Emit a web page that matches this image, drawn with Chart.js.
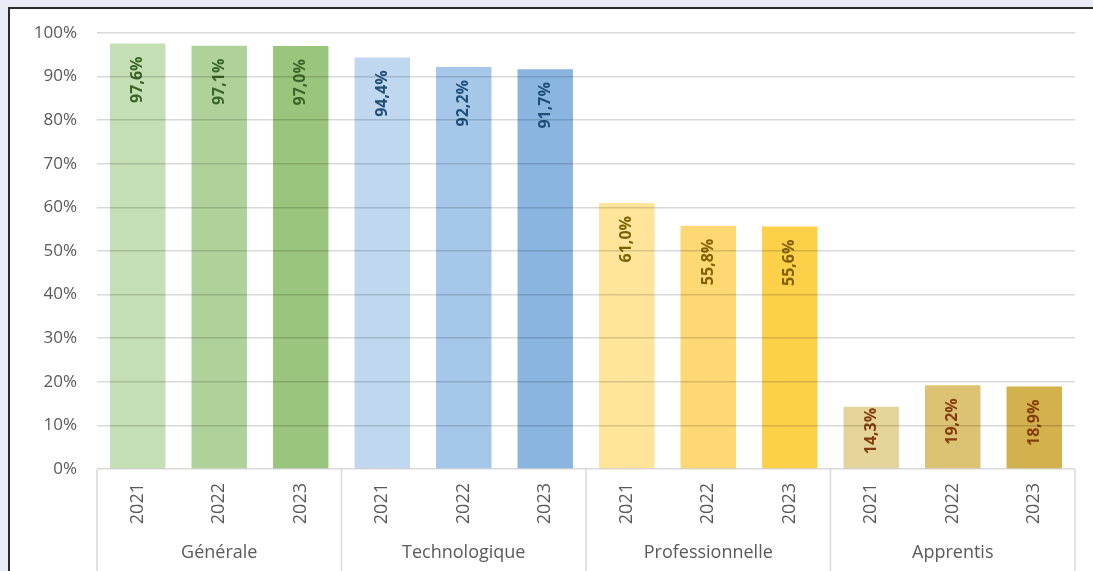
<!DOCTYPE html>
<html>
<head>
<meta charset="utf-8">
<script src="https://cdn.jsdelivr.net/npm/chart.js@4/dist/chart.umd.min.js"></script>
<style>
  html, body { margin: 0; padding: 0; background: #e9ecf5; overflow: hidden; }
  #card { position: absolute; left: 8px; top: 7px; width: 1200px; height: 700px; background: #fff;
          border-left: 2px solid #2b2b2b; border-top: 2px solid #2b2b2b; }
  #wrap { position: absolute; left: 0; top: 0; width: 1093px; height: 571px; }
</style>
</head>
<body>
<div id="card"></div>
<div id="wrap"><canvas id="chart1"></canvas></div>
<script>
const groups = ['Générale', 'Technologique', 'Professionnelle', 'Apprentis'];
const years = ['2021', '2022', '2023'];
const values = [0.976, 0.971, 0.970, 0.944, 0.922, 0.917, 0.610, 0.558, 0.556, 0.143, 0.192, 0.189];
const barColors = [
  '#c5dfb4', '#aed29a', '#9ac57c',
  '#bfd7ef', '#a5c7e9', '#8ab5e0',
  '#fee59a', '#fdd873', '#fdd04a',
  '#e5d49a', '#dcc373', '#d3b14d'
];
const labelColors = ['#3b6428', '#1f4e79', '#7f6000', '#843c0c'];

const labels = [];
groups.forEach(() => years.forEach(y => labels.push(y)));

const fontFamily = "'Open Sans', sans-serif";

const barLabels = {
  id: 'barLabels',
  afterDatasetsDraw(chart) {
    const ctx = chart.ctx;
    const meta = chart.getDatasetMeta(0);
    ctx.save();
    ctx.font = "bold 16px " + fontFamily;
    meta.data.forEach((bar, i) => {
      const txt = (values[i] * 100).toFixed(1).replace('.', ',') + '%';
      const w = ctx.measureText(txt).width;
      const h = bar.base - bar.y;
      // inside end, pushed up when the bar is short
      const off = Math.max(1, Math.min(13, h - w - 14));
      ctx.save();
      ctx.translate(bar.x, bar.y + off);
      ctx.rotate(-Math.PI / 2);
      ctx.textAlign = 'right';
      ctx.textBaseline = 'middle';
      ctx.fillStyle = labelColors[Math.floor(i / 3)];
      ctx.fillText(txt, 0, 0);
      ctx.restore();
    });
    ctx.restore();
  }
};

const groupAxis = {
  id: 'groupAxis',
  afterDraw(chart) {
    const ctx = chart.ctx;
    const x = chart.scales.x;
    const top = chart.chartArea.bottom;
    const bottom = chart.height;
    ctx.save();
    ctx.strokeStyle = '#d9d9d9';
    ctx.lineWidth = 1.5;
    for (let g = 0; g <= groups.length; g++) {
      let px;
      if (g === 0) px = x.left;
      else if (g === groups.length) px = x.right;
      else px = (x.getPixelForValue(g * 3 - 1) + x.getPixelForValue(g * 3)) / 2;
      ctx.beginPath();
      ctx.moveTo(px, top);
      ctx.lineTo(px, bottom);
      ctx.stroke();
    }
    ctx.font = "18px " + fontFamily;
    ctx.fillStyle = '#595959';
    ctx.textAlign = 'center';
    ctx.textBaseline = 'middle';
    groups.forEach((name, g) => {
      ctx.fillText(name, x.getPixelForValue(g * 3 + 1), top + 84);
    });
    ctx.restore();
  }
};

new Chart(document.getElementById('chart1'), {
  type: 'bar',
  data: {
    labels: labels,
    datasets: [{
      data: values,
      backgroundColor: barColors,
      borderWidth: 0,
      barPercentage: 0.68,
      categoryPercentage: 1
    }]
  },
  options: {
    responsive: true,
    maintainAspectRatio: false,
    animation: false,
    layout: { padding: { top: 33, right: 18, left: 0, bottom: 0 } },
    plugins: { legend: { display: false }, tooltip: { enabled: false } },
    scales: {
      x: {
        grid: { display: false },
        border: { display: false },
        ticks: {
          color: '#595959',
          font: { family: fontFamily, size: 18 },
          maxRotation: 90,
          minRotation: 90,
          padding: 6
        },
        afterFit(s) { s.height = 102; }
      },
      y: {
        min: 0,
        max: 1,
        grid: { color: 'rgba(0,0,0,0.15)', lineWidth: 1.5, z: 1, drawTicks: false },
        border: { display: false },
        ticks: {
          stepSize: 0.1,
          color: '#595959',
          font: { family: fontFamily, size: 17 },
          padding: 20,
          callback: v => Math.round(v * 100) + '%'
        },
        afterFit(s) { s.width = 97; }
      }
    }
  },
  plugins: [barLabels, groupAxis]
});
</script>
</body>
</html>
